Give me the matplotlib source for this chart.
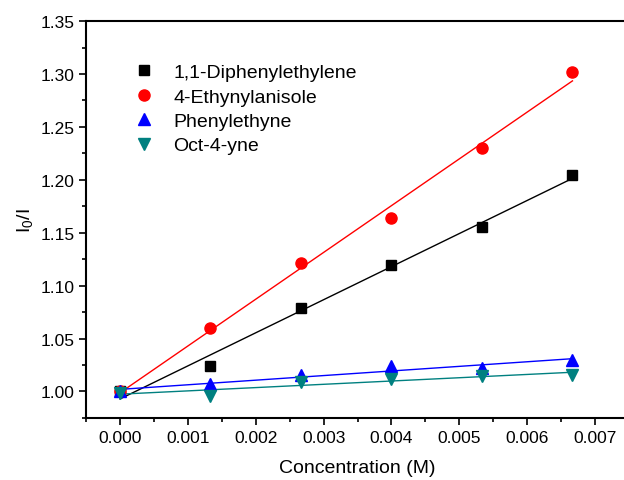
import matplotlib
matplotlib.use('Agg')
import matplotlib.pyplot as plt
import numpy as np
from matplotlib.ticker import MultipleLocator

plt.rcParams['font.family'] = ['Liberation Sans', 'DejaVu Sans']
plt.rcParams['mathtext.fontset'] = 'custom'
plt.rcParams['mathtext.rm'] = 'Liberation Sans'

# concentrations (M)
conc = np.array([0.0, 0.001333, 0.002667, 0.004, 0.005333, 0.006667])

# I0/I values for each quencher
diphenylethylene = [1.000, 1.024, 1.079, 1.120, 1.155, 1.205]
ethynylanisole = [1.000, 1.060, 1.121, 1.164, 1.230, 1.302]
phenylethyne = [1.000, 1.007, 1.016, 1.024, 1.022, 1.030]
octyne = [0.999, 0.996, 1.009, 1.012, 1.015, 1.016]

labels = ["1,1-Diphenylethylene", "4-Ethynylanisole", "Phenylethyne", "Oct-4-yne"]
colors = ["#000000", "#ff0000", "#0000ff", "#008080"]
markers = ["s", "o", "^", "v"]
sizes = [7, 8, 8.5, 8.5]

fig = plt.figure(figsize=(6.24, 4.81), dpi=100)
ax = fig.add_axes([0.138, 0.129, 0.87, 0.825])

for ys, lab, c, m, s in zip([diphenylethylene, ethynylanisole, phenylethyne, octyne],
                            labels, colors, markers, sizes):
    k, b = np.polyfit(conc, ys, 1)
    xs = np.array([conc[0], conc[-1]])
    ax.plot(xs, k * xs + b, color=c, lw=1.0, zorder=2)
    ax.plot(conc, ys, ls='none', marker=m, ms=s, color=c, mec=c, label=lab, zorder=3)

ax.set_xlim(-0.0005, 0.0075)
ax.set_ylim(0.975, 1.35)
ax.xaxis.set_minor_locator(MultipleLocator(0.0005))
ax.yaxis.set_major_locator(MultipleLocator(0.05))
ax.yaxis.set_minor_locator(MultipleLocator(0.025))
ax.xaxis.set_major_formatter(matplotlib.ticker.FormatStrFormatter('%.3f'))
ax.yaxis.set_major_formatter(matplotlib.ticker.FormatStrFormatter('%.2f'))
ax.set_xticks([t for t in np.arange(0, 0.0075, 0.001)])

ax.tick_params(which='both', direction='out', top=False, right=False, labelsize=12.5)
ax.tick_params(which='major', length=5, width=1.2)
ax.tick_params(which='minor', length=3, width=1.2)
for sp in ax.spines.values():
    sp.set_linewidth(1.5)
ax.spines['right'].set_visible(False)

ax.set_xlabel("Concentration (M)", fontsize=14, labelpad=10)
ax.set_ylabel(r"$\mathregular{I_0/I}$", fontsize=14, labelpad=4)

ax.legend(loc='upper left', bbox_to_anchor=(0.089, 0.893), frameon=False, fontsize=14,
          handlelength=1.0, handletextpad=1.0, labelspacing=0.35, borderaxespad=0,
          borderpad=0)

fig.savefig("out.png", dpi=100)
